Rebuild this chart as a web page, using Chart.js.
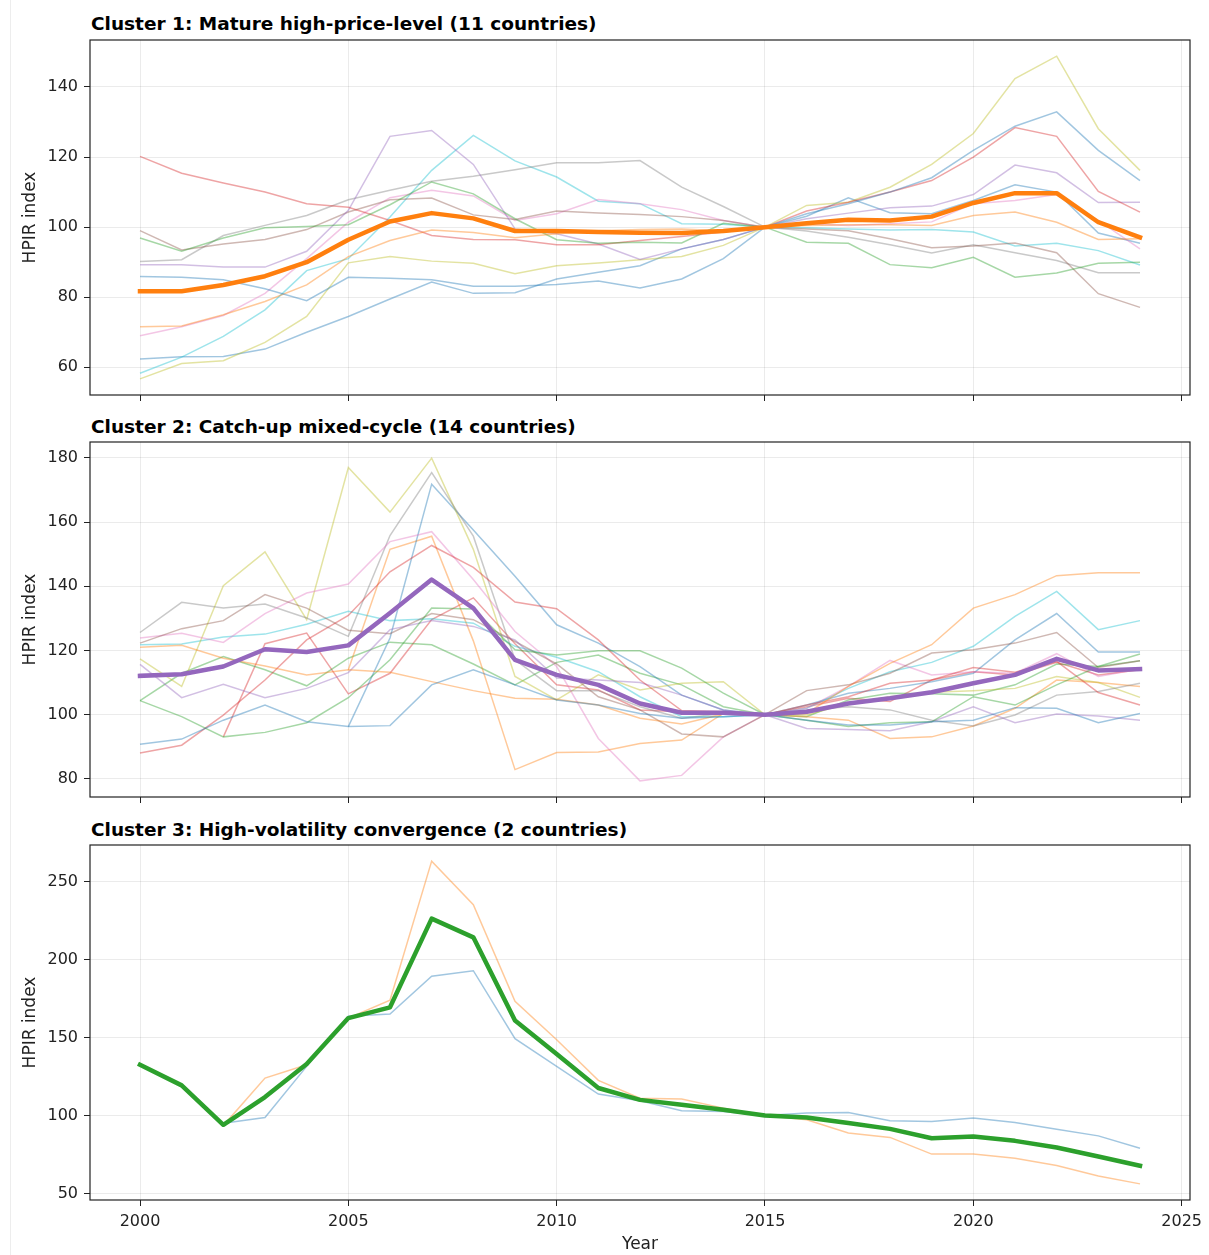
<!DOCTYPE html>
<html>
<head>
<meta charset="utf-8">
<script src="https://cdn.jsdelivr.net/npm/chart.js@4.4.1/dist/chart.umd.min.js"></script>
<style>
  html, body { margin:0; padding:0; background:#fff; }
  #fig { position:relative; width:1209px; height:1255px; overflow:hidden; font-family:'DejaVu Sans', sans-serif; }
  #fig canvas { position:absolute; left:0; }
  .ptitle { position:absolute; left:91px; font-weight:bold; font-size:18.5px; line-height:22px; color:#000; white-space:nowrap; }
  .edge { position:absolute; left:10px; top:0; width:1px; height:1255px; background:#ededed; }
</style>
</head>
<body>
<div id="fig">
  <div class="edge"></div>
  <div class="ptitle" style="top:13px">Cluster 1: Mature high-price-level (11 countries)</div>
  <canvas id="c1" width="1209" height="375" style="top:30px"></canvas>
  <div class="ptitle" style="top:416px">Cluster 2: Catch-up mixed-cycle (14 countries)</div>
  <canvas id="c2" width="1209" height="375" style="top:432px"></canvas>
  <div class="ptitle" style="top:819px">Cluster 3: High-volatility convergence (2 countries)</div>
  <canvas id="c3" width="1209" height="420" style="top:835px"></canvas>
</div>
<script>
/* ---------- datos ---------- */
const years = [2000,2001,2002,2003,2004,2005,2006,2007,2008,2009,2010,2011,2012,
               2013,2014,2015,2016,2017,2018,2019,2020,2021,2022,2023,2024];
const xTicks  = [2000, 2005, 2010, 2015, 2020, 2025];
const c1Ticks = [60, 80, 100, 120, 140];
const c2Ticks = [80, 100, 120, 140, 160, 180];
const c3Ticks = [50, 100, 150, 200, 250];

const yTitle = 'HPIR index';

// Cluster 1 (11 países)
const c1Blue   = [85.9,85.7,85.0,82.4,79.0,85.7,85.4,85.0,83.1,83.1,83.6,84.6,82.6,85.2,91.0,100,103.8,106.7,110.0,114.1,121.9,128.8,132.9,121.9,113.3];
const c1Orange = [71.6,71.8,75.0,78.8,83.5,91.6,96.2,99.2,98.5,97.0,98.1,99.0,99.3,99.5,99.0,100,100.5,100.7,100.7,100.5,103.3,104.3,101.4,96.5,96.7];
const c1Green  = [96.9,93.1,96.9,99.8,100.2,100.7,106.4,112.9,109.5,102.4,96.4,95.4,95.7,95.5,101.1,100,95.7,95.4,89.3,88.4,91.4,85.7,86.9,89.7,90.0];
const c1Red    = [120.2,115.4,112.6,110.0,106.7,105.7,101.9,97.6,96.5,96.4,95.0,95.0,96.2,97.3,98.6,100,104.6,107.1,110.0,113.3,120.0,128.4,125.9,110.2,104.3];
const c1Purple = [89.3,89.3,88.6,88.6,93.1,104.8,125.9,127.6,117.9,99.5,98.1,95.2,90.8,93.8,96.5,100,102.4,104.0,105.5,106.0,109.3,117.7,115.5,107.0,107.1];
const c1Brown  = [99.0,93.5,95.2,96.5,99.3,104.3,107.8,108.3,103.5,102.2,104.6,104.0,103.6,103.0,101.9,100,99.5,99.0,96.7,94.1,94.6,95.5,92.7,81.0,77.1];
const c1Pink   = [69.0,71.6,74.8,81.1,91.0,101.4,108.4,110.5,108.9,101.9,103.8,107.9,106.7,105.0,101.9,100,101.0,100.5,101.0,101.5,106.7,107.6,109.3,101.9,93.8];
const c1Gray   = [90.2,90.7,97.6,100.5,103.3,107.8,110.5,113.1,114.5,116.4,118.4,118.4,119.0,111.4,105.9,100,98.9,97.1,95.0,92.6,95.0,92.7,90.5,87.0,87.0];
const c1Olive  = [56.7,61.1,61.9,67.1,74.5,89.8,91.6,90.3,89.7,86.7,89.0,89.8,90.7,91.6,94.8,100,106.2,107.1,111.4,117.9,126.7,142.4,148.8,128.1,116.2];
const c1Cyan   = [58.3,62.9,68.8,76.4,87.6,91.0,102.9,116.2,126.2,118.9,114.3,107.4,106.7,101.0,100.8,100,99.8,99.5,99.2,99.3,98.6,94.6,95.4,93.3,89.2];
const c1Blue2  = [62.4,63.0,63.1,65.2,70.0,74.5,79.5,84.3,81.1,81.3,85.2,87.1,89.0,93.8,96.5,100,103.1,108.4,104.1,103.8,107.6,112.1,110.0,98.3,95.4];
const c1Mean   = [81.7,81.7,83.5,86.0,90.0,96.4,101.6,104.0,102.5,98.9,98.9,98.6,98.4,98.3,98.9,100,101.1,102.1,101.9,103.0,106.9,109.7,109.7,101.4,97.1];

// Cluster 2 (14 países)
const c2Blue    = [90.8,92.4,98.3,103.0,97.8,96.3,96.6,109.3,114.0,109.3,104.6,103.0,100.4,98.9,99.4,100,98.3,96.8,96.8,97.8,98.3,102.2,102.0,97.5,100.4];
const c2Orange  = [121.0,121.6,117.6,115.2,112.4,114.0,113.2,110.3,107.5,105.1,104.8,103.0,98.9,97.1,100.2,100,100.4,108.8,116.0,121.8,133.2,137.4,143.3,144.2,144.2];
const c2Green   = [104.4,99.4,93.1,94.5,97.5,105.3,117.1,133.2,132.9,120.2,118.6,119.9,119.9,114.5,106.7,100,98.3,96.3,97.5,97.8,105.6,103.0,109.3,115.0,118.9];
const c2Red     = [88.1,90.5,99.9,110.8,123.3,130.9,144.5,152.7,145.9,135.1,133.0,123.3,110.8,101.3,100.9,100,103.0,105.6,109.8,110.8,114.7,113.2,116.6,106.9,103.0];
const c2Purple  = [115.7,105.3,109.5,105.3,108.2,113.1,126.5,129.3,127.5,123.3,111.4,110.8,110.0,106.1,101.5,100,95.7,95.4,95.0,97.8,102.5,97.5,100.2,99.6,98.3];
const c2Brown   = [122.3,126.8,129.3,137.4,133.2,126.3,125.2,131.5,129.6,122.8,115.8,105.6,101.5,94.0,93.1,100,107.5,109.3,112.9,119.2,120.2,122.3,125.6,114.7,116.8];
const c2Pink    = [123.9,125.4,122.5,131.5,137.9,140.7,153.9,157.0,142.1,125.9,115.0,92.6,79.4,81.1,93.1,100,102.0,108.8,116.9,112.4,113.4,112.9,119.0,111.9,114.2];
const c2Gray    = [125.6,135.0,133.2,134.5,130.1,124.4,155.8,175.4,155.6,117.1,107.5,107.5,102.5,98.9,100.4,100,101.5,102.5,101.5,98.3,96.5,99.9,106.1,107.2,109.8];
const c2Olive   = [117.4,108.8,140.2,150.7,129.6,177.0,163.1,179.9,151.5,111.9,104.6,112.4,107.7,109.8,110.3,100,99.9,103.5,105.6,107.0,107.5,108.2,111.9,110.0,105.4];
const c2Cyan    = [121.8,122.0,124.2,125.1,128.2,132.2,129.3,129.9,128.5,121.3,117.9,113.4,105.6,99.4,99.4,100,102.0,108.2,113.4,116.3,121.3,130.6,138.4,126.5,129.3];
const c2Blue2   = [null,null,null,null,null,96.3,123.9,171.8,157.5,143.1,128.0,122.3,115.0,106.1,101.5,100,103.0,106.7,108.2,110.3,112.9,123.3,131.5,119.5,119.5];
const c2Orange2 = [null,null,null,null,null,114.0,151.5,155.6,123.0,82.9,88.2,88.4,91.0,92.1,100.4,100,99.4,98.3,92.6,93.1,96.5,102.0,110.8,110.0,108.8];
const c2Green2  = [104.4,112.9,118.1,114.0,109.0,117.6,122.6,121.8,115.8,109.3,116.3,118.6,112.9,109.3,102.5,100,99.4,104.6,106.7,106.5,106.1,109.3,115.8,115.0,116.8];
const c2Red2    = [null,null,93.1,122.1,125.4,106.5,112.9,129.6,136.4,122.1,109.3,107.7,101.5,100.9,100.6,100,102.5,105.1,104.1,110.8,113.4,112.4,116.3,112.4,114.0];
const c2Mean    = [112.1,112.6,115.0,120.4,119.5,121.6,131.7,142.1,133.2,117.1,112.4,109.3,103.5,100.6,100.6,100,100.9,103.5,105.1,107.0,109.8,112.4,117.4,113.8,114.2];

// Cluster 3 (2 países)
const c3Blue   = [null,null,95.0,98.7,131.5,163.6,165.1,189.3,192.9,149.3,131.5,113.7,109.4,103.0,102.6,100,101.5,101.9,96.6,96.1,98.3,95.5,91.2,86.9,79.0];
const c3Orange = [132.5,119.3,93.5,124.0,132.5,162.5,173.9,263.2,235.3,173.2,148.6,122.5,111.1,110.5,104.7,100,97.2,88.7,85.9,75.2,75.2,72.6,67.9,61.2,56.1];
const c3Mean   = [132.5,119.3,94.0,111.8,133.0,162.5,169.4,226.3,214.3,161.0,139.4,117.6,110.0,106.9,103.6,100,98.7,95.1,91.4,85.4,86.5,83.7,79.4,73.7,67.7];

/* ---------- estilo ---------- */
const FONT = "'DejaVu Sans', sans-serif";
const TAB10 = ['#1f77b4','#ff7f0e','#2ca02c','#d62728','#9467bd',
               '#8c564b','#e377c2','#7f7f7f','#bcbd22','#17becf'];
const INK = '#222';
const GRID = 'rgba(0,0,0,0.08)';

function withAlpha(hex, a) {
  const n = parseInt(hex.slice(1), 16);
  return `rgba(${n >> 16},${(n >> 8) & 255},${n & 255},${a})`;
}
const toPts = vals => years.map((yr, i) => ({ x: yr, y: vals[i] }));

// marco completo (matplotlib dibuja las 4 espinas)
const framePlugin = {
  id: 'frame',
  afterDatasetsDraw(chart) {
    const { ctx, chartArea: a } = chart;
    ctx.save();
    ctx.strokeStyle = INK;
    ctx.lineWidth = 1.2;
    ctx.strokeRect(a.left, a.top, a.right - a.left, a.bottom - a.top);
    ctx.restore();
  }
};

function makePanel(id, series, mean, meanColor, yTicks, showX) {
  const all = series.concat([mean]).flat().filter(v => v != null);
  const lo = Math.min(...all), hi = Math.max(...all), pad = (hi - lo) * 0.05;
  const xPad = (years[years.length - 1] - years[0]) * 0.05;

  const datasets = series.map((vals, i) => ({
    data: toPts(vals),
    borderColor: withAlpha(TAB10[i % 10], 0.42),
    borderWidth: 1.5,
    pointRadius: 0,
    tension: 0,
    order: 1
  }));
  datasets.push({
    data: toPts(mean),
    borderColor: meanColor,
    borderWidth: 4.5,
    borderJoinStyle: 'round',
    borderCapStyle: 'square',
    pointRadius: 0,
    tension: 0,
    order: 0
  });

  return new Chart(document.getElementById(id), {
    type: 'line',
    data: { datasets },
    options: {
      responsive: false,
      animation: false,
      devicePixelRatio: 1,
      layout: { padding: { top: 10, right: 19, left: 0, bottom: 0 } },
      plugins: { legend: { display: false }, tooltip: { enabled: false } },
      scales: {
        x: {
          type: 'linear',
          min: years[0] - xPad,
          max: years[years.length - 1] + xPad,
          afterBuildTicks: s => { s.ticks = xTicks.map(v => ({ value: v })); },
          afterFit: s => { s.height = showX ? 55 : 10; s.paddingLeft = 0; s.paddingRight = 0; },
          grid: { color: GRID, lineWidth: 1, tickLength: 6, tickColor: INK, tickWidth: 1 },
          border: { display: false },
          ticks: { display: showX, color: INK, font: { family: FONT, size: 16 }, padding: 6,
                   maxRotation: 0, autoSkip: false, callback: v => String(v) },
          title: { display: showX, text: 'Year', color: INK, font: { family: FONT, size: 17 },
                   padding: { top: 0, bottom: 0 } }
        },
        y: {
          min: lo - pad,
          max: hi + pad,
          afterBuildTicks: s => { s.ticks = yTicks.map(v => ({ value: v })); },
          afterFit: s => { s.width = 90; s.paddingTop = 0; s.paddingBottom = 0; },
          grid: { color: GRID, lineWidth: 1, tickLength: 6, tickColor: INK, tickWidth: 1 },
          border: { display: false },
          ticks: { color: INK, font: { family: FONT, size: 16 }, padding: 6, callback: v => String(v) },
          title: { display: true, text: yTitle, color: INK, font: { family: FONT, size: 17 },
                   padding: { top: 20, bottom: 0 } }
        }
      }
    },
    plugins: [framePlugin]
  });
}

makePanel('c1',
  [c1Blue, c1Orange, c1Green, c1Red, c1Purple, c1Brown, c1Pink, c1Gray, c1Olive, c1Cyan, c1Blue2],
  c1Mean, '#ff7f0e', c1Ticks, false);
makePanel('c2',
  [c2Blue, c2Orange, c2Green, c2Red, c2Purple, c2Brown, c2Pink, c2Gray, c2Olive, c2Cyan,
   c2Blue2, c2Orange2, c2Green2, c2Red2],
  c2Mean, '#9467bd', c2Ticks, false);
makePanel('c3', [c3Blue, c3Orange], c3Mean, '#2ca02c', c3Ticks, true);
</script>
</body>
</html>
